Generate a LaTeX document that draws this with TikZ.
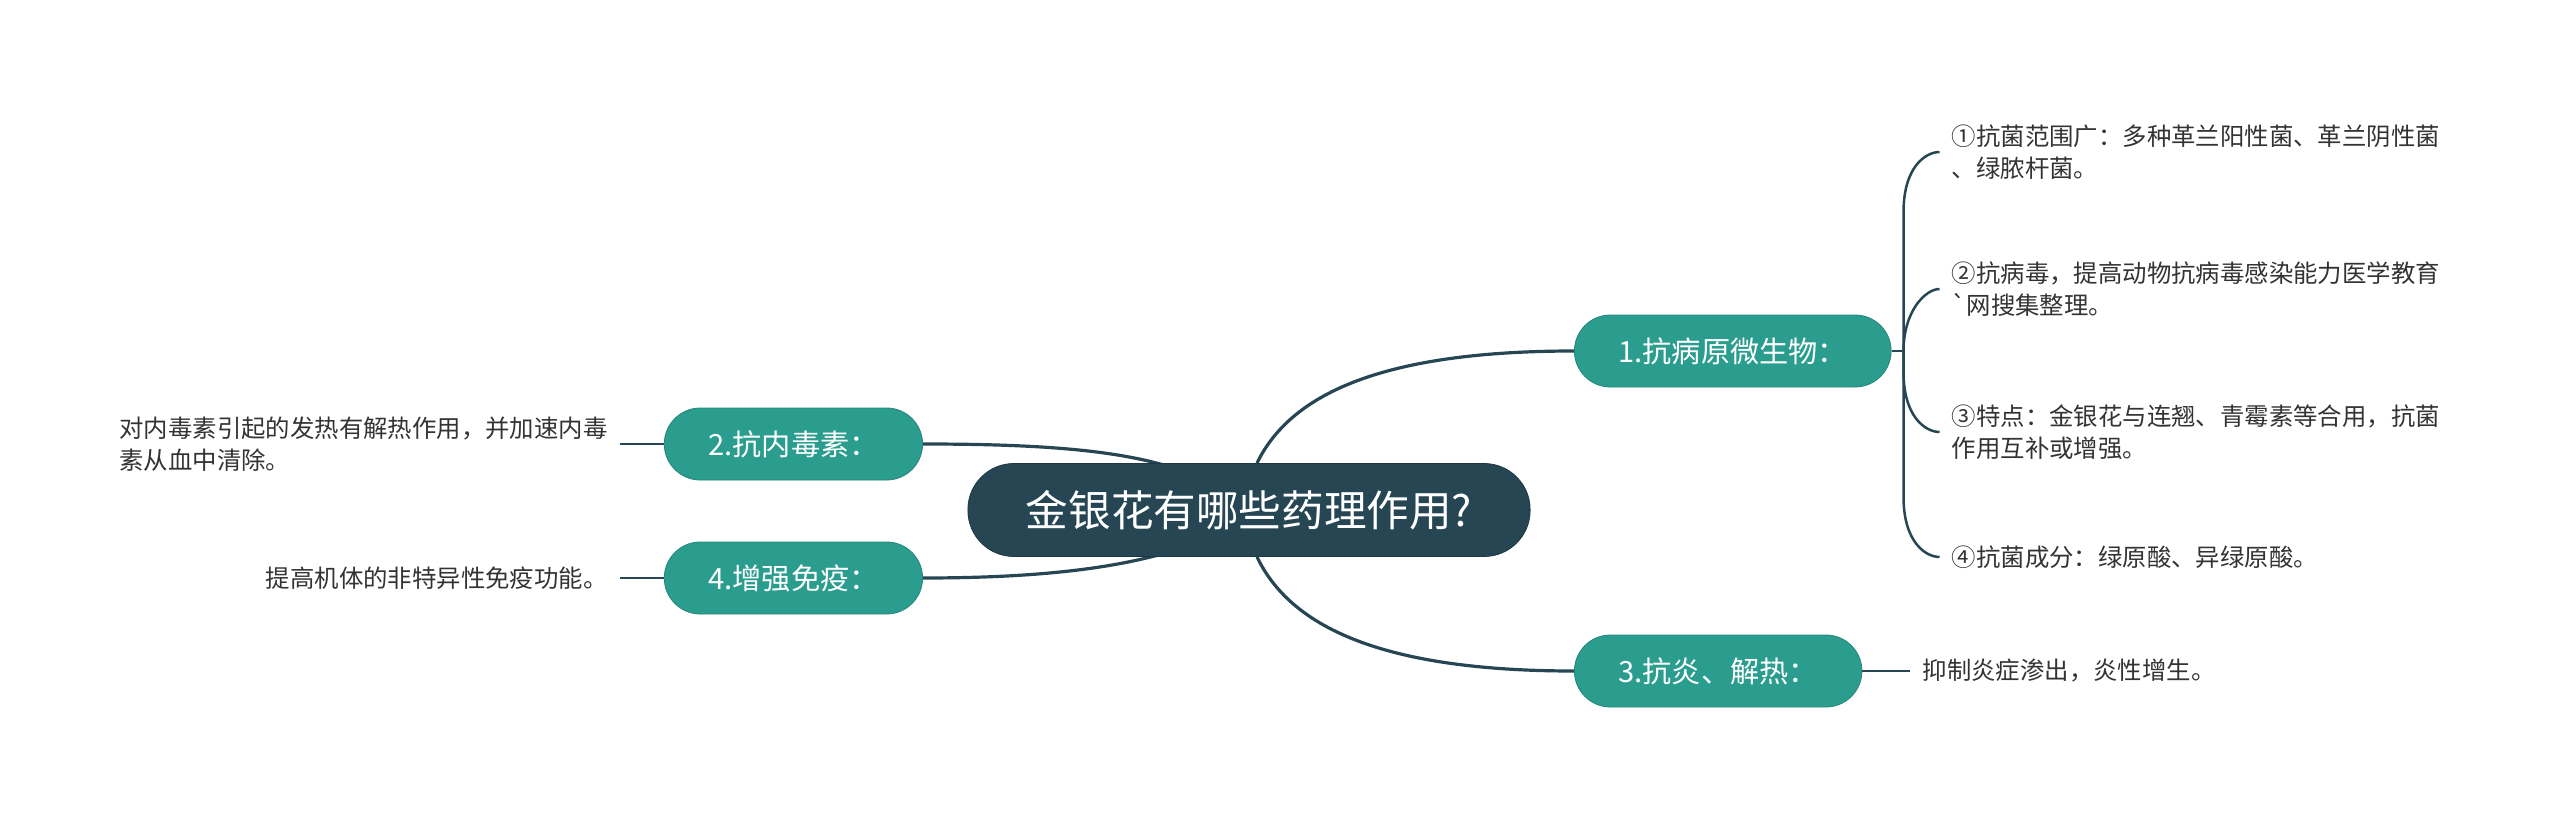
\documentclass[tikz,border=0pt]{standalone}
\usepackage{fontspec}
\usetikzlibrary{positioning,backgrounds}
\newfontfamily\cjk{Noto Sans CJK SC}
\definecolor{mapdark}{RGB}{38,70,84}
\definecolor{mapteal}{RGB}{43,157,142}

\begin{document}
\begin{tikzpicture}[x=0.5pt,y=-0.5pt,node distance=22pt]
  \tikzstyle{root}=[draw=mapdark!80!black,fill=mapdark,rounded corners=23pt,
    minimum height=46.5pt,inner xsep=29pt,text=white,font=\cjk\fontsize{21.3}{25}\selectfont]
  \tikzstyle{topic}=[draw=mapteal!85!black,fill=mapteal,rounded corners=18pt,
    minimum height=36pt,inner xsep=22pt,text=white,font=\cjk\fontsize{14.6}{17}\selectfont]
  \tikzstyle{leaf}=[inner xsep=6pt,align=left,text=black!80,font=\cjk\fontsize{12.2}{16}\selectfont]
  \tikzstyle{mainlink}=[mapdark,line width=1.6pt]
  \tikzstyle{sublink}=[mapdark,line width=1.25pt]

  \useasboundingbox (0,0) rectangle (2560,813);

  % -- central topic --
  \node[root] (c) at (1249,510) {金银花有哪些药理作用?};

  % -- main branches --
  \node[topic,anchor=west] (n1) at (1574,351) {1.抗病原微生物：};
  \node[topic,anchor=east] (n2) at (923,444) {2.抗内毒素：};
  \node[topic,anchor=west] (n3) at (1574,671) {3.抗炎、解热：};
  \node[topic,anchor=east] (n4) at (923,578) {4.增强免疫：};

  % -- leaves --
  \node[leaf,right=24pt of n1,yshift=99.5pt] (l1) {①抗菌范围广：多种革兰阳性菌、革兰阴性菌\\、绿脓杆菌。};
  \node[leaf,right=24pt of n1,yshift=31pt] (l2) {②抗病毒，提高动物抗病毒感染能力医学教育\\`网搜集整理。};
  \node[leaf,right=24pt of n1,yshift=-40.5pt] (l3) {③特点：金银花与连翘、青霉素等合用，抗菌\\作用互补或增强。};
  \node[leaf,right=24pt of n1,yshift=-103pt] (l4) {④抗菌成分：绿原酸、异绿原酸。};
  \node[leaf,right=24pt of n3] (l5) {抑制炎症渗出，炎性增生。};
  \node[leaf,left=22pt of n2] (l6) {对内毒素引起的发热有解热作用，并加速内毒\\素从血中清除。};
  \node[leaf,left=22pt of n4] (l7) {提高机体的非特异性免疫功能。};

  % -- links from the central topic --
  \begin{scope}[on background layer]
    \draw[mainlink] ([xshift=4pt]c.north) .. controls (1290,395) and (1380,351) .. (n1.west);
    \draw[mainlink] ([xshift=4pt]c.south) .. controls (1290,626) and (1380,671) .. (n3.west);
    \draw[mainlink] (n2.east) .. controls (1040,444) and (1120,450) .. ([xshift=-36pt,yshift=-3pt]c.north);
    \draw[mainlink] (n4.east) .. controls (1040,578) and (1120,568) .. ([xshift=-35pt,yshift=4pt]c.south);
  \end{scope}

  % -- links to leaves --
  \draw[sublink] (n1.east) -- ++(12,0) coordinate (j1);
  \draw[sublink] (j1) -- ([yshift=-30pt]j1 |- l1.west) .. controls +(0,-45) and +(-14,0) .. (l1.west);
  \draw[sublink] (j1) .. controls +(0,-40) and +(-14,0) .. (l2.west);
  \draw[sublink] (j1) -- ([yshift=30pt]j1 |- l3.west) .. controls +(0,45) and +(-14,0) .. (l3.west);
  \draw[sublink] (j1) -- ([yshift=30pt]j1 |- l4.west) .. controls +(0,45) and +(-14,0) .. (l4.west);
  \draw[sublink] (n3.east) -- (l5.west);
  \draw[sublink] (n2.west) -- (l6.east);
  \draw[sublink] (n4.west) -- (l7.east);
\end{tikzpicture}
\end{document}
